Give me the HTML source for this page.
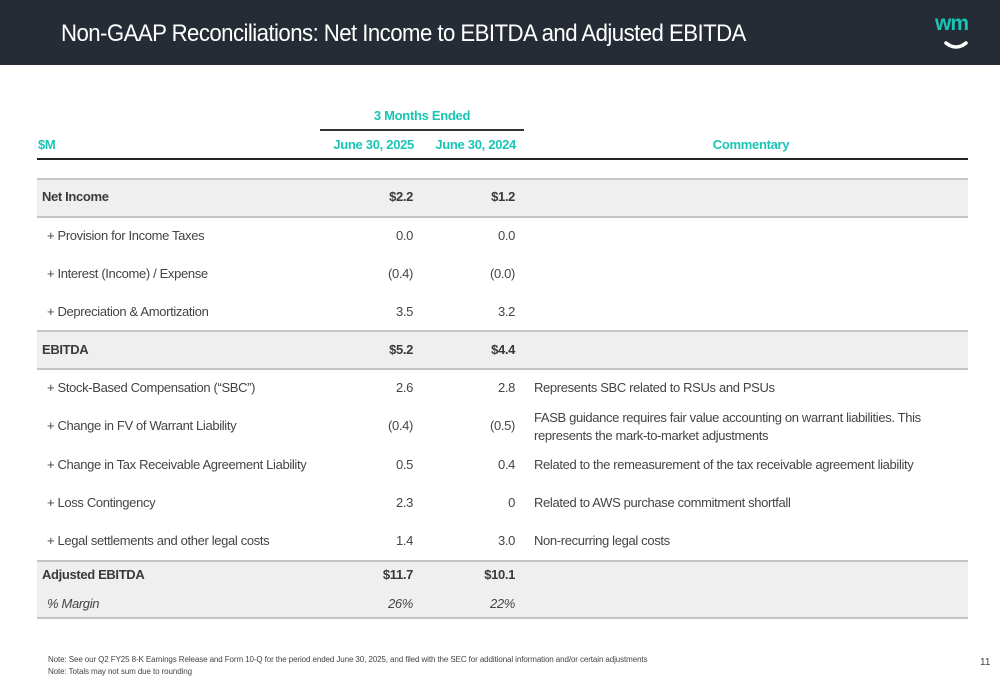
<!DOCTYPE html>
<html><head><meta charset="utf-8"><style>
*{margin:0;padding:0;box-sizing:border-box}
body{width:1000px;height:685px;background:#fff;position:relative;overflow:hidden;font-family:"Liberation Sans",sans-serif;color:#444}
.a{position:absolute;white-space:nowrap}
.t{font-size:13px;letter-spacing:-0.35px}
.r{text-align:right}
.b{font-weight:bold;color:#3a3a3a}
.teal{color:#19c6b6;font-weight:bold;font-size:13px;letter-spacing:-0.3px}
.band{position:absolute;left:37px;width:931px;background:#efefef;border-top:2px solid #c4c4c4;border-bottom:2px solid #c4c4c4}
</style></head><body>
<div class="a" style="left:0;top:0;width:1000px;height:65px;background:#262c35"></div>
<div class="a" style="left:61px;top:20px;font-size:24px;color:#fff;letter-spacing:-0.6px;transform:scaleX(0.925);transform-origin:left top">Non-GAAP Reconciliations: Net Income to EBITDA and Adjusted EBITDA</div>
<div class="a" style="left:935px;top:12px;width:44px;height:40px">
<div style="position:absolute;left:0;top:0;font-size:21px;font-weight:bold;color:#19c6b6;letter-spacing:-1px">wm</div>
<svg style="position:absolute;left:8px;top:28px" width="26" height="12"><path d="M3 3 Q13 11 23 3" stroke="#fff" stroke-width="3.5" fill="none" stroke-linecap="round"/></svg>
</div>
<div class="a teal" style="left:320px;top:108px;width:204px;text-align:center">3 Months Ended</div>
<div class="a" style="left:320px;top:129px;width:204px;height:2px;background:#333"></div>
<div class="a teal" style="left:38px;top:137px">$M</div>
<div class="a teal r" style="left:300px;width:114px;top:137px">June 30, 2025</div>
<div class="a teal r" style="left:400px;width:116px;top:137px">June 30, 2024</div>
<div class="a teal" style="left:534px;width:434px;top:137px;text-align:center">Commentary</div>
<div class="a" style="left:37px;top:158px;width:931px;height:2px;background:#222"></div>
<div class="band" style="top:178px;height:40px"></div>
<div class="band" style="top:330px;height:40px"></div>
<div class="band" style="top:560px;height:59px"></div>
<div id="rows"></div>
<div class="a" style="left:48px;top:654px;font-size:8px;line-height:12px;color:#444;letter-spacing:-0.1px">Note: See our Q2 FY25 8-K Earnings Release and Form 10-Q for the period ended June 30, 2025, and filed with the SEC for additional information and/or certain adjustments<br>Note: Totals may not sum due to rounding</div>
<div class="a" style="left:980px;top:657px;font-size:10px;color:#444">11</div>
<script>
const labels=["Net Income","+ Provision for Income Taxes","+ Interest (Income) / Expense","+ Depreciation & Amortization","EBITDA","+ Stock-Based Compensation (“SBC”)","+ Change in FV of Warrant Liability","+ Change in Tax Receivable Agreement Liability","+ Loss Contingency","+ Legal settlements and other legal costs","Adjusted EBITDA","% Margin"];
const v2025=["$2.2","0.0","(0.4)","3.5","$5.2","2.6","(0.4)","0.5","2.3","1.4","$11.7","26%"];
const v2024=["$1.2","0.0","(0.0)","3.2","$4.4","2.8","(0.5)","0.4","0","3.0","$10.1","22%"];
const comments=["","","","","","Represents SBC related to RSUs and PSUs","FASB guidance requires fair value accounting on warrant liabilities. This<br>represents the mark-to-market adjustments","Related to the remeasurement of the tax receivable agreement liability","Related to AWS purchase commitment shortfall","Non-recurring legal costs","",""];
const ys=[197,236,274,312,350,388,426,465,503,541,575,604];
const root=document.getElementById('rows');
function add(cls,style,html,name){const d=document.createElement('div');d.className='a t '+cls;d.style.cssText=style;d.innerHTML=html;


root.appendChild(d);}
labels.forEach((l,i)=>{
 const bold=[0,4,10].includes(i), it=i==11;
 const cls=(bold?'b ':''), st=it?'font-style:italic;':'';
 const y=ys[i]-8;
 add(cls,st+'left:'+(bold?42:47)+'px;top:'+y+'px',l,'row-label');
 add(cls+' r',st+'left:300px;width:113px;top:'+y+'px',v2025[i],'value-2025');
 add(cls+' r',st+'left:400px;width:115px;top:'+y+'px',v2024[i],'value-2024');
 if(comments[i]){const two=comments[i].includes('<br>');add('',(two?'line-height:18px;top:'+(y-9):'top:'+y)+'px;left:534px',comments[i],'commentary');}
});
</script>
</body></html>
